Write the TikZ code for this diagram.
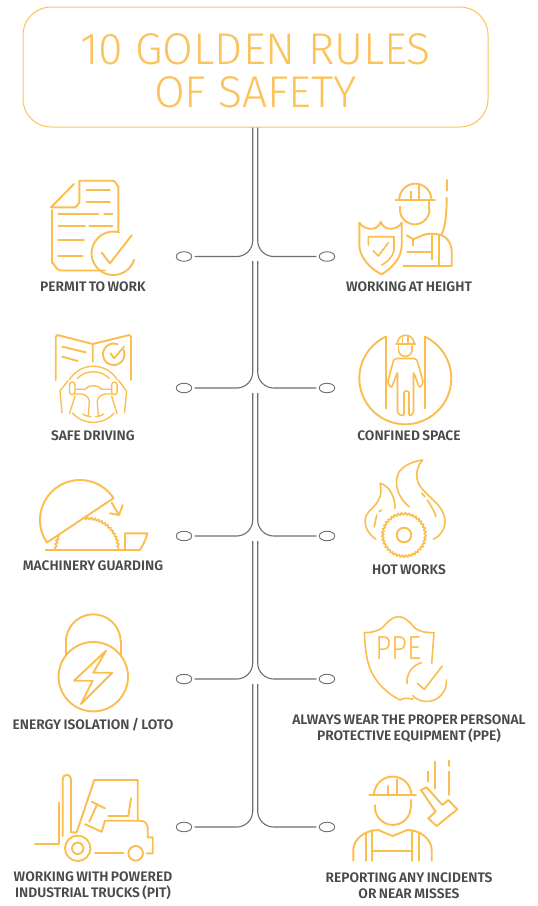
\documentclass[tikz,border=0pt]{standalone}
\usepackage{fontspec}
\setmainfont{Fira Sans}
\newfontfamily\titlefont[WordSpace=0.6]{Fira Sans Light}
\newfontfamily\labelfont[WordSpace=0.7]{Fira Sans SemiBold}
\newfontfamily\ppefont{Fira Sans Light}
\usetikzlibrary{shapes.geometric,decorations.pathmorphing,calc}
\definecolor{gold}{HTML}{FBBD4E}
\definecolor{titlegold}{HTML}{FCC25C}
\definecolor{ink}{HTML}{4A4A4A}
\definecolor{wire}{HTML}{6E6E6E}
\tikzset{
  icon/.style={draw=gold,line width=1.9pt,line join=round,line cap=round,fill=none},
  thin icon/.style={icon,line width=1.6pt},
  fine icon/.style={icon,line width=1.35pt},
  saw/.style={decorate,decoration={zigzag,segment length=3.6pt,amplitude=1.1pt}},
  lbl/.style={text=ink,font=\labelfont\fontsize{13.8}{15.8}\selectfont,align=center,inner sep=0pt},
  oval/.style={ellipse,draw=wire,line width=.9pt,minimum width=15.5pt,minimum height=9.5pt,inner sep=0pt},
  wireline/.style={draw=wire,line width=1.1pt,rounded corners=16pt,shorten >=2.5pt},
}
\newcommand{\iarc}[6][icon]{\draw[#1] plot[domain=#5:#6,samples=48,variable=\t] ({#2+#4*cos(\t)},{#3+#4*sin(\t)});}
\begin{document}
\begin{tikzpicture}[x=1pt,y=-1pt]
\useasboundingbox (0,0) rectangle (538,906);
\fill[white] (0,0) rectangle (538,906);
% title
\node[draw=titlegold,line width=1pt,rounded corners=28pt,minimum width=465pt,minimum height=120pt,inner sep=0pt,anchor=center] (title) at (255.5,67) {};
\node[text=titlegold,font=\titlefont\fontsize{44.5}{43.3}\selectfont,align=center,inner sep=0pt] (titletext) at (255.5,70.5) {10 GOLDEN RULES\\OF SAFETY};
% ovals
\node[oval] (ol1) at (184,256.5) {}; \node[oval] (or1) at (327,256.5) {};
\node[oval] (ol2) at (184,388) {};   \node[oval] (or2) at (327,388) {};
\node[oval] (ol3) at (184,536) {};   \node[oval] (or3) at (327,536) {};
\node[oval] (ol4) at (184,679) {};   \node[oval] (or4) at (327,679) {};
\node[oval] (ol5) at (184,827) {};   \node[oval] (or5) at (327,827) {};
% connectors
\coordinate (tl1) at ($(title.south)+(-2.8,0)$); \coordinate (tr1) at ($(title.south)+(2.2,0)$);
\coordinate (tl2) at (252.7,261); \coordinate (tr2) at (257.7,261);
\coordinate (tl3) at (252.7,393); \coordinate (tr3) at (257.7,393);
\coordinate (tl4) at (252.7,541); \coordinate (tr4) at (257.7,541);
\coordinate (tl5) at (252.7,684); \coordinate (tr5) at (257.7,684);
\foreach \i in {1,...,5}{
  \draw[wireline] (tl\i) |- (ol\i.east);
  \draw[wireline] (tr\i) |- (or\i.west);
}
% labels
\node[lbl] (a) at (93,287) {PERMIT TO WORK};
\node[lbl] (b) at (409,287) {WORKING AT HEIGHT};
\node[lbl] (c) at (93,435.5) {SAFE DRIVING};
\node[lbl] (d) at (409,435.5) {CONFINED SPACE};
\node[lbl] (e) at (93,566) {MACHINERY GUARDING};
\node[lbl] (f) at (409,570) {HOT WORKS};
\node[lbl] (g) at (93,725) {ENERGY ISOLATION / LOTO};
\node[lbl] (h) at (409,728.5) {ALWAYS WEAR THE PROPER PERSONAL\\PROTECTIVE EQUIPMENT (PPE)};
\node[lbl] (i) at (93,885.5) {WORKING WITH POWERED\\INDUSTRIAL TRUCKS (PIT)};
\node[lbl] (j) at (409,885.5) {REPORTING ANY INCIDENTS\\OR NEAR MISSES};
% --- permit to work
\draw[icon] (74,184)--(51,207.3)--(75,207.3) to[out=0,in=90] (79.3,203)--(79.3,180.7)--(113,180.7) to[out=0,in=-90] (118.3,186)--(118.3,231.7);
\draw[icon] (52,210)--(52,263) to[out=90,in=180] (60,270.5)--(105,270.5);
\draw[icon] (86.7,190)--(110,190) (86.7,202.3)--(110,202.3) (58.3,214.3)--(98.3,214.3) (104.3,214.3)--(112.3,214.3) (58.3,226)--(85,226) (89.3,226)--(112.3,226) (58.3,240)--(84,240) (58.3,255.7)--(82.7,255.7);
\iarc{113.3}{253.3}{21.7}{17}{285}
\draw[icon] (101.7,252.7)--(110,263.3)--(131.7,235.3);
% --- working at height
\draw[icon] (395.7,199.7)--(435,199.7);
\iarc{415.3}{199.7}{16}{180}{360}
\draw[icon] (411.3,191.7)--(411.3,199.7) (419,185)--(419,199.7);
\draw[icon] (400,206.7)--(400,209.6) (429.3,201)--(429.3,209.6);
\iarc{414.7}{209.6}{14.7}{0}{180}
\draw[icon] (446.7,180)--(446.7,190.7);
\draw[icon] (446.7,197.7) .. controls (446.7,215) and (445,228) .. (441.7,234);
\draw[icon] (406.7,235.3)--(413.3,239.3)--(423.3,235) .. controls (428,233.5) and (432,233.5) .. (436,234) .. controls (446,235) and (451.7,242) .. (451.7,252)--(451.7,266)--(403.3,266);
\draw[icon] (413.3,239.3)--(413.3,245.3) (432.3,235)--(432.3,259.3) (439,235)--(439,266) (407.3,251.7)--(432.3,251.7);
\draw[icon] (359.3,222.7) .. controls (364,230) and (378,232) .. (380.7,221.7) .. controls (384,232) and (398,230) .. (401.7,222.7);
\draw[icon] (359.3,222.7)--(359.3,245) .. controls (359.3,258) and (372,270) .. (381.7,274.3) .. controls (392,268) and (401.7,258) .. (401.7,245)--(401.7,222.7);
\draw[thin icon] (368.3,245)--(368.3,236.7)--(394,236.7)--(394,250) .. controls (393,256) and (388,262) .. (381.7,265);
\draw[thin icon] (373.3,250.7)--(378.3,256)--(388.3,242.7);
% --- confined space
\iarc{405.3}{378.3}{46}{-65}{245}
\draw[icon] (385.7,336.7)--(385.7,408.3) (425,336.7)--(425,408.3);
\draw[thin icon] (396,343.7)--(415.3,343.7) (402.5,338)--(402.5,343.7) (408,336.5)--(408,343.7);
\iarc[thin icon]{405.7}{343.7}{8.4}{180}{360}
\iarc[thin icon]{405.3}{349.5}{6.8}{0}{180}
\draw[thin icon] (398.5,346)--(398.5,349.5) (412.1,346)--(412.1,349.5);
\draw[thin icon,rounded corners=2pt] (394,358.5)--(387.5,383)--(391.5,388)--(397.5,372)--(397.5,414)--(404,416)--(404,391)--(409,391)--(409,416)--(413.5,414)--(413.5,372)--(419.5,388)--(423.5,383)--(416.5,358.5)--cycle;
% --- safe driving
\draw[icon] (55.7,380)--(55.7,336.7)--(57.5,335)--(92.7,344)--(129.3,335)--(131,336.7)--(131,380);
\draw[icon] (92.7,344)--(92.7,361.7) (62.3,346.7)--(85.7,352.3) (62.3,356.7)--(77.7,361);
\iarc{113.7}{354.3}{10.7}{-25}{290}
\draw[icon] (110.7,353.3)--(114,358.3)--(124,346.7);
\iarc[fine icon]{93.3}{394.3}{28}{-148}{-32}
\iarc[fine icon]{93.3}{394.3}{28}{42}{138}
\iarc[fine icon]{93.3}{394.3}{22.5}{-135}{-45}
\iarc[fine icon]{93.3}{394.3}{22.5}{62}{84}
\iarc[fine icon]{93.3}{394.3}{22.5}{96}{118}
\draw[fine icon] (75.5,389.3)--(85,389.3) .. controls (88,384.5) and (98.6,384.5) .. (101.6,389.3)--(111.5,389.3);
\draw[fine icon] (75.5,394)--(82,394) .. controls (87,395) and (89.5,399) .. (89.3,402)--(88.3,415.5);
\draw[fine icon] (111.5,394)--(104.6,394) .. controls (99.6,395) and (97.1,399) .. (97.3,402)--(98.3,415.5);
\draw[fine icon] (62,412.7)--(60,391)--(68,380.5);
\draw[fine icon] (69.5,392)--(69.5,385) .. controls (69.5,381) and (75,381) .. (75,385)--(75,392) .. controls (75,395.5) and (69.5,395.5) .. (69.5,392);
\draw[fine icon] (124.6,412.7)--(126.6,391)--(118.6,380.5);
\draw[fine icon] (111.6,392)--(111.6,385) .. controls (111.6,381) and (117.1,381) .. (117.1,385)--(117.1,392) .. controls (117.1,395.5) and (111.6,395.5) .. (111.6,392);
\draw[fine icon] (69.5,413.5)--(75,396) (117,413.5)--(111.6,396);
% --- machinery guarding
\iarc{80}{520}{40}{146}{327}
\draw[icon] (46.7,542.7)--(113.3,498.3);
\draw[icon] (45.7,549.7)--(140,549.7);
\draw[icon] (125,549.7)--(125,533.3)--(147.3,533.3) .. controls (146,540) and (143,545) .. (140,549.7);
\draw[thin icon,saw] plot[domain=-97:-2,samples=40,variable=\t] ({87+31.4*cos(\t)},{549.7+31.4*sin(\t)});
\draw[thin icon,saw] plot[domain=182:207,samples=12,variable=\t] ({87+31.4*cos(\t)},{549.7+31.4*sin(\t)});
\draw[icon] (111.7,502.7)--(119,515)--(122.7,505) (119,515)--(110,513.3);
% --- hot works
\draw[thin icon,saw] plot[domain=0:360,samples=60,variable=\t] ({404+21.3*cos(\t)},{535+21.3*sin(\t)});
\draw[icon] (404,535) circle[radius=7.3];
\draw[thin icon] (409.3,506.7) .. controls (398,498) and (393,483) .. (399,472) .. controls (404,465) and (414,461) .. (422.7,460) .. controls (417,466) and (414,477) .. (420,486) .. controls (428,498) and (445,505) .. (445,522) .. controls (445,530) and (439,537) .. (433.3,539.3);
\draw[thin icon] (376,539.3) .. controls (368,534) and (364,526) .. (365.5,518) .. controls (367,508) and (385,505) .. (380,483.3) .. controls (390,486) and (395,497) .. (395,508.3);
\draw[thin icon] (381.7,510)--(379,511.7) (376.7,515)--(374.3,526.7) (421.7,493.3)--(425,496.7) (427.3,500) .. controls (431,506) and (434.5,511) .. (436,516.7);
% --- PPE
\draw[thin icon] (431.7,663.3)--(434,632.7) .. controls (425,632.5) and (418,632) .. (413,626) .. controls (407,619) and (403,616.7) .. (398.3,616.7) .. controls (393,616.7) and (388,621) .. (384,626) .. controls (380,631) and (372,632.5) .. (364.3,632.7) .. controls (365,645) and (366,660) .. (371,671) .. controls (377,684) and (388,694) .. (400,700) .. controls (405,697) and (409,699) .. (413,699);
\node[text=gold,font=\ppefont\fontsize{33.5}{33}\selectfont,inner sep=0pt,xscale=.83] (ppe) at (398.3,648.5) {PPE};
\iarc[thin icon]{426.7}{681.7}{19.7}{-5}{135}
\iarc[thin icon]{426.7}{681.7}{19.7}{175}{255}
\draw[thin icon] (417.3,683.3)--(424.3,689.3)--(442.3,666);
% --- energy isolation
\draw[icon] (93.3,676.7) circle[radius=34.7];
\draw[icon] (66,655)--(66,641.7) (120.7,641.7)--(120.7,655);
\iarc{93.3}{641.7}{27.3}{180}{360}
\draw[icon] (106,650.7)--(74,680.7)--(92.7,680.7)--(81,704)--(112.3,672.7)--(93.3,672.7)--cycle;
% --- forklift
\draw[icon] (62.7,836)--(62.7,779) .. controls (62.7,773.5) and (71,773.5) .. (71,779)--(71,832.3)--(76.7,832.3)--(94.3,780)--(137.7,780)--(137.7,820);
\draw[icon] (59.3,802.7)--(59.3,844.3)--(35,844.3);
\draw[icon] (77.7,848.3) circle[radius=12.7] (77.7,848.3) circle[radius=5.7];
\draw[icon] (135.7,853.3) circle[radius=7.3];
\draw[icon] (95,853.3)--(123.3,853.3);
\draw[icon] (101.7,831.7)--(105,820.7)--(140,820.7) .. controls (145,820.7) and (147.7,824) .. (147.7,828.3)--(147.7,837.3)--(152.7,837.3)--(152.7,853.3)--(146.7,853.3);
\draw[icon] (85,824.3)--(101.7,831.7) (91.7,801.7)--(105,808.3) (97.3,804)--(89.3,821.7) (131,798.3)--(128.3,816)--(108.3,816);
% --- reporting
\draw[icon] (369.3,795.3)--(416,795.3);
\iarc{392.7}{795.3}{18.7}{180}{360}
\draw[icon] (387.7,786)--(387.7,795.3) (397.3,779.3)--(397.3,795.3);
\draw[icon] (375,805)--(375,807) (410.7,800)--(410.7,807);
\iarc{392.85}{807}{17.85}{0}{180}
\draw[icon] (353.3,860.7)--(353.3,850) .. controls (353.3,839) and (365,830) .. (378.3,830)--(392.7,836)--(407.3,830) .. controls (420,830) and (431.7,839) .. (431.7,850)--(431.7,860.7);
\draw[icon] (365.7,832.5)--(365.7,860.7) (372.3,830.5)--(372.3,860.7) (412.3,830.5)--(412.3,860.7) (419,832.5)--(419,860.7) (372.3,851)--(412.3,851);
\draw[icon] (421,790)--(426.7,787.3)--(442.3,805)--(448.3,800)--(457.3,809.3)--(436.7,826)--(428.3,818.3)--(435.7,811.7)--cycle;
\draw[icon] (427.7,771.7)--(427.7,781.7) (435,761.7)--(435,788.3) (449,760.7)--(449,766) (449,771.7)--(449,795);
\end{tikzpicture}
\end{document}
